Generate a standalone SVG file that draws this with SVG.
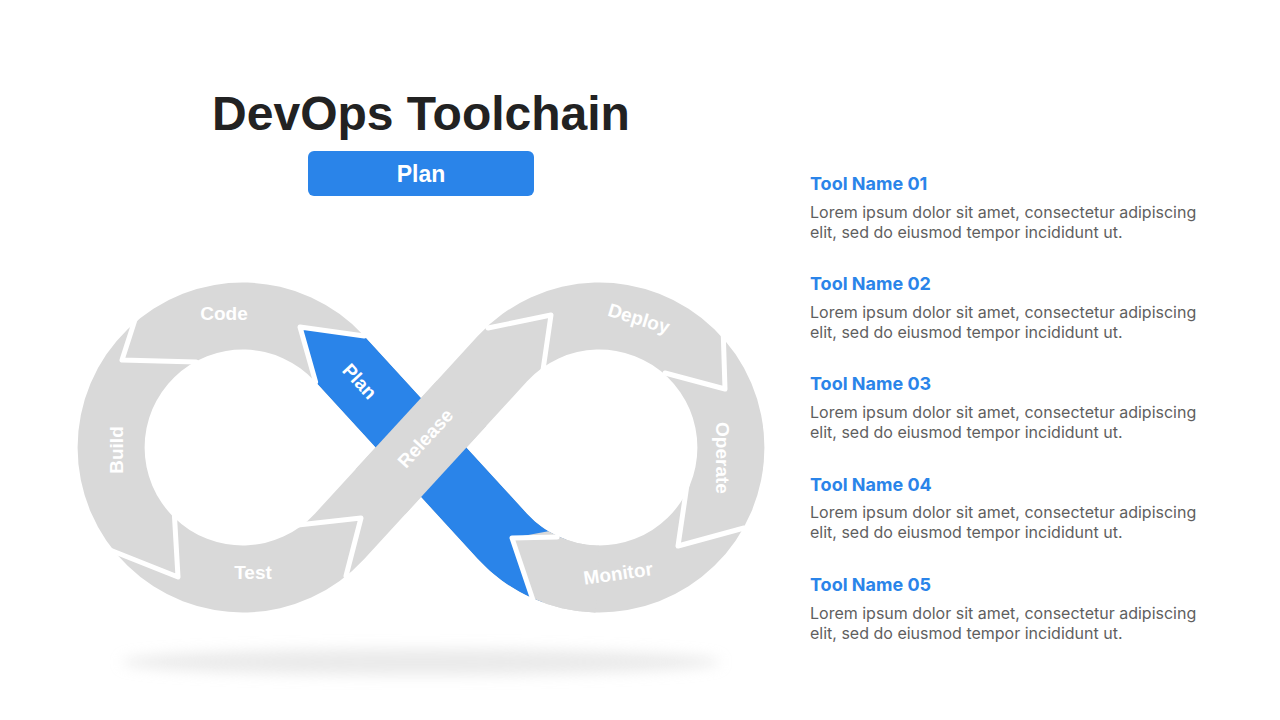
<svg xmlns="http://www.w3.org/2000/svg" width="1280" height="720" viewBox="0 0 1280 720">
  <defs>
    <filter id="blur" x="-20%" y="-200%" width="140%" height="500%">
      <feGaussianBlur stdDeviation="7"/>
    </filter>
    <clipPath id="shapeClip">
      <path clip-rule="evenodd" d="M 364.25 336.03 L 421 397.91 L 477.75 336.03 A 165 165 0 1 1 477.75 558.97 L 421 497.09 L 364.25 558.97 A 165 165 0 1 1 364.25 336.03 Z M 314.86 381.29 A 98 98 0 1 0 314.86 513.71 L 375.56 447.5 Z M 527.14 381.29 A 98 98 0 1 1 527.14 513.71 L 466.44 447.5 Z"/>
    </clipPath>
    <style>
      .gray { fill: #D9D9D9; }
      .blue { fill: #2A84E9; }
      .sep { fill: none; stroke: #FFFFFF; stroke-width: 5; stroke-linejoin: round; stroke-linecap: round; }
      .lbl { font-family: "Liberation Sans", Arial, sans-serif; font-weight: 700; font-size: 19px; fill: #FFFFFF; text-anchor: middle; }
      .title { font-family: "Liberation Sans", Arial, sans-serif; font-weight: 700; font-size: 48px; fill: #222222; text-anchor: middle; }
      .btn { font-family: "Liberation Sans", Arial, sans-serif; font-weight: 700; font-size: 23px; fill: #FFFFFF; text-anchor: middle; }
      .tname { font-family: Inter, "Liberation Sans", sans-serif; font-weight: 700; font-size: 18px; fill: #2A84E9; }
      .tdesc { font-family: Inter, "Liberation Sans", sans-serif; font-weight: 400; font-size: 16px; fill: #5F5F5F; }
    </style>
  </defs>
  <rect width="1280" height="720" fill="#FFFFFF"/>

  <ellipse cx="421" cy="662" rx="300" ry="13" fill="#D6D6D6" opacity="0.5" filter="url(#blur)"/>

  <g id="title">
    <text class="title" x="421" y="130">DevOps Toolchain</text>
  </g>
  <g id="plan-button">
    <rect x="308" y="151" width="226" height="45" rx="6" fill="#2A84E9"/>
    <text class="btn" x="421" y="182">Plan</text>
  </g>

  <g id="infinity">
    <path class="gray" fill-rule="evenodd" d="M 364.25 336.03 L 421 397.91 L 477.75 336.03 A 165 165 0 1 1 477.75 558.97 L 421 497.09 L 364.25 558.97 A 165 165 0 1 1 364.25 336.03 Z M 314.86 381.29 A 98 98 0 1 0 314.86 513.71 L 375.56 447.5 Z M 527.14 381.29 A 98 98 0 1 1 527.14 513.71 L 466.44 447.5 Z"/>
  </g>

  <g id="stage-plan" clip-path="url(#shapeClip)">
    <path class="blue" d="M 300 327 L 364.3 336 L 527.14 513.71 A 98 98 0 0 0 565.9 539.6 L 543.0 602.55 A 165 165 0 0 1 477.75 558.97 L 315.6 382 Z"/>
  </g>
  <g id="stage-plan-head">
    <polyline class="sep" points="364.3,336 300,327 315.6,382"/>
  </g>

  <g id="stage-release">
    <polygon class="gray" points="355.76,469.11 436.84,380.63 486.24,425.89 405.16,514.37"/>
  </g>

  <g id="stage-monitor" clip-path="url(#shapeClip)">
    <path class="gray" d="M 512 538 L 555 530 L 600 530 L 595 625 L 536 608 Z"/>
  </g>

  <g id="connectors">
    <polyline class="sep" points="143,295 122,360 196,362"/>
    <polyline class="sep" points="110,550 178,577 174,508"/>
    <polyline class="sep" points="298,525 361,518 346,576"/>
    <polyline class="sep" points="488,328 551,315 543,370"/>
    <polyline class="sep" points="723,326 725,389 665,373"/>
    <polyline class="sep" points="744,528 678,546 688,478"/>
    <polyline class="sep" points="557,537 512,538 535,606"/>
  </g>

  <g id="labels">
    <text class="lbl" x="224" y="320">Code</text>
    <text class="lbl" transform="translate(116,450) rotate(-90)" y="7">Build</text>
    <text class="lbl" x="253" y="579">Test</text>
    <text class="lbl" transform="translate(360,381) rotate(47.5)" y="7">Plan</text>
    <text class="lbl" transform="translate(425,438) rotate(-47.5)" y="7">Release</text>
    <text class="lbl" transform="translate(639,318) rotate(17)" y="7">Deploy</text>
    <text class="lbl" transform="translate(723,458) rotate(90)" y="7">Operate</text>
    <text class="lbl" transform="translate(618,573) rotate(-8)" y="7">Monitor</text>
  </g>

  <g id="tool-01">
    <text class="tname" x="810" y="190">Tool Name 01</text>
    <text class="tdesc" x="810" y="218">Lorem ipsum dolor sit amet, consectetur adipiscing</text>
    <text class="tdesc" x="810" y="238">elit, sed do eiusmod tempor incididunt ut.</text>
  </g>
  <g id="tool-02">
    <text class="tname" x="810" y="290">Tool Name 02</text>
    <text class="tdesc" x="810" y="318">Lorem ipsum dolor sit amet, consectetur adipiscing</text>
    <text class="tdesc" x="810" y="338">elit, sed do eiusmod tempor incididunt ut.</text>
  </g>
  <g id="tool-03">
    <text class="tname" x="810" y="390">Tool Name 03</text>
    <text class="tdesc" x="810" y="418">Lorem ipsum dolor sit amet, consectetur adipiscing</text>
    <text class="tdesc" x="810" y="438">elit, sed do eiusmod tempor incididunt ut.</text>
  </g>
  <g id="tool-04">
    <text class="tname" x="810" y="491">Tool Name 04</text>
    <text class="tdesc" x="810" y="518">Lorem ipsum dolor sit amet, consectetur adipiscing</text>
    <text class="tdesc" x="810" y="538">elit, sed do eiusmod tempor incididunt ut.</text>
  </g>
  <g id="tool-05">
    <text class="tname" x="810" y="591">Tool Name 05</text>
    <text class="tdesc" x="810" y="619">Lorem ipsum dolor sit amet, consectetur adipiscing</text>
    <text class="tdesc" x="810" y="639">elit, sed do eiusmod tempor incididunt ut.</text>
  </g>
</svg>
